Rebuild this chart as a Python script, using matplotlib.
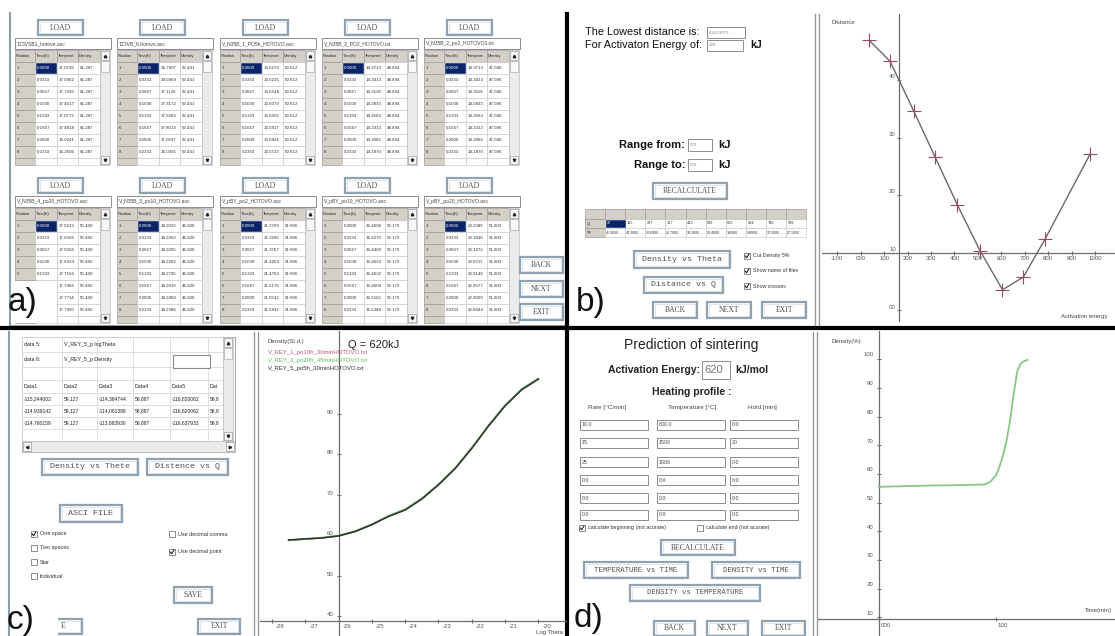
import matplotlib
matplotlib.use('Agg')
from matplotlib import pyplot as plt
from matplotlib.patches import Rectangle

W, H = 1115, 636

# a) loaded measurement files
file_names = ['TZ3VSB1_hotove.asc', 'TZ3VB_6.hotovo.asc', 'V_N35B_1_PO5h_HOTOVO.asc',
              'V_N35B_2_PO2_HOTOVO.txt', 'V_N35B_2_po2_HOTOVO3.txt',
              'V_N35B_4_po20_HOTOVO.asc', 'V_N35B_3_po10_HOTOVO.asc', 'V_pBY_po2_HOTOVO.asc',
              'V_pBY_po10_HOTOVO.asc', 'V_pBY_po20_HOTOVO.asc']
time_h = [0.0, 0.0333, 0.0667, 0.1, 0.1333, 0.1667, 0.2, 0.2333]
temp_c = [
    [17.0728, 17.0462, 17.7296, 17.4617, 17.0772, 17.4818, 16.0241, 16.2606],
    [16.7607, 18.0469, 17.1126, 17.3172, 17.5683, 17.8013, 17.0597, 16.0391],
    [13.6279, 13.6215, 13.6148, 13.6079, 13.6002, 13.5917, 13.5824, 13.5722],
    [14.3713, 14.3413, 14.3118, 14.2833, 14.2563, 14.2313, 14.2082, 14.1870],
    [14.3713, 14.3413, 14.3118, 14.2833, 14.2563, 14.2312, 14.2082, 14.1870],
    [17.5633, 17.6186, 17.6504, 17.6934, 17.7166, 17.7466, 17.7734, 17.7960],
    [18.2022, 18.2062, 18.2095, 18.2262, 18.2735, 18.2816, 18.2460, 18.2384],
    [21.2769, 21.3200, 21.3767, 21.4263, 21.4763, 21.5176, 21.5532, 21.5832],
    [16.4606, 16.4270, 16.4465, 16.4623, 16.4632, 16.4604, 16.5161, 16.5348],
    [23.2389, 23.1830, 23.1272, 23.0711, 23.0146, 22.9577, 22.9009, 22.8444],
]
density_pct = [61.287, 52.441, 50.612, 48.894, 47.046, 50.460, 46.820, 51.806, 52.179, 51.803]

# b) distance vs activation energy
q_kj = [37, 125, 227, 317, 413, 509, 605, 694, 788, 978]
dist = [46.9, 43.3, 34.6, 26.7, 18.3, 10.4, 3.6, 5.8, 12.5, 27.1]
b_xticks = [-100, 0, 100, 200, 300, 400, 500, 600, 700, 800, 900, 1000]
b_xlabels = ['-100', '000', '100', '200', '300', '400', '500', '600', '700', '800', '900', '1000']
b_yticks = [0, 10, 20, 30, 40]
b_ylabels = ['00', '10', '20', '30', '40']

# c) density vs log theta, three files
log_theta = [-27.5, -27.0, -26.5, -26.0, -25.5, -25.0, -24.5, -24.0,
             -23.5, -23.0, -22.5, -22.0, -21.5, -21.0, -20.5, -20.0]
dens_rey1 = [58.8, 59.0, 59.3, 59.8, 60.9, 62.6, 64.7, 66.3, 69.0, 72.5, 76.5, 81.5, 87.0, 92.0, 96.0, 98.6]
dens_rey3 = [58.7, 59.0, 59.4, 59.9, 61.0, 62.7, 64.8, 66.4, 69.1, 72.6, 76.6, 81.6, 87.1, 92.1, 96.1, 98.7]
dens_rey5 = [58.8, 59.1, 59.3, 59.8, 60.9, 62.6, 64.6, 66.2, 68.9, 72.4, 76.4, 81.4, 86.9, 91.9, 95.9, 98.5]
c_names = ['V_REY_1_po10h_30minHOTOVO.txt', 'V_REY_3_po20h_45minHOTOVO.txt', 'V_REY_5_po5h_30minHOTOVO.txt']
c_colors = ['#b9566f', '#5cc05c', '#333333']
c_rows = [['-115,244002', '59,127', '-114,364744', '58,887', '-116,820062', '58,8'],
          ['-114,939142', '59,127', '-114,061388', '58,887', '-116,820062', '58,8'],
          ['-114,760159', '59,127', '-113,883930', '58,887', '-116,637933', '58,8']]

# d) predicted density vs time
time_min = [0, 10, 20, 30, 40, 50, 60, 70, 80, 90, 95, 100, 103, 106, 109, 112, 115, 118, 121, 124, 127]
dens_pred = [55.5, 55.6, 55.7, 55.8, 55.9, 56.0, 56.0, 56.1, 56.2, 56.3, 57.2, 59.5,
             62.5, 66.5, 71.5, 78.5, 87.5, 95.5, 98.4, 99.3, 99.7]
rate = ['10.0', '15', '25', '0.0', '0.0', '0.0']
temperature = ['800.0', '1500', '1000', '0.0', '0.0', '0.0']
hold = ['0.0', '20', '0.0', '0.0', '0.0', '0.0']

SANS = 'Liberation Sans'
SERIF = 'Liberation Serif'
MONO = 'Liberation Mono'
GRID = '#c4c4c4'
HEAD = '#d4d0c8'
EDGE = '#8ea2b2'
TXT = '#505050'
AXC = '#6e6e6e'

fig = plt.figure(figsize=(W / 100, H / 100), dpi=100)
gui = fig.add_axes([0, 0, 1, 1])
gui.set_xlim(0, W)
gui.set_ylim(H, 0)
gui.set_axis_off()


def rect(x0, y0, x1, y1, fc='white', ec=GRID, lw=0.6, z=2):
    gui.add_patch(Rectangle((x0, y0), x1 - x0, y1 - y0, facecolor=fc, edgecolor=ec, linewidth=lw, zorder=z))


def text(x, y, s, fs=4, family=SANS, color='#222', ha='left', weight='normal', z=3):
    gui.text(x, y, s, fontsize=fs, family=family, color=color, ha=ha, va='center', weight=weight, zorder=z)


def button(x0, y0, x1, y1, label, fs=5.5, family=SERIF):
    rect(x0, y0, x1, y1, ec=EDGE, lw=1.6)
    rect(x0 + 1.6, y0 + 1.6, x1 - 1.6, y1 - 1.6, fc='none', ec='#d3dbe1', lw=0.5)
    if label:
        text((x0 + x1) / 2, (y0 + y1) / 2, label, fs, family, TXT, 'center')


def textbox(x0, y0, x1, y1, s='', fs=3.6, color='#444'):
    rect(x0, y0, x1, y1, ec='#8c8c8c', lw=0.7)
    text(x0 + 2, (y0 + y1) / 2, s, fs, SANS, color)


def checkbox(x, y, label, checked, fs=4):
    rect(x, y - 3, x + 6, y + 3, ec='#7a7a7a', lw=0.6)
    if checked:
        gui.plot([x + 1.2, x + 2.6, x + 4.9], [y - 0.1, y + 1.8, y - 1.9], color='#222', lw=0.8, zorder=4)
    text(x + 9, y, label, fs, SANS, '#333')


def scrollbar(x0, top, bottom):
    rect(x0, top, x0 + 10, bottom, fc='#ebebeb', ec='#b0b0b0', lw=0.4)
    rect(x0 + 1, top + 1, x0 + 9, top + 10, fc='#f6f6f6', ec='#8a8a8a', lw=0.4)
    gui.plot(x0 + 5, top + 5.5, marker='^', ms=1.8, color='#222', zorder=4)
    rect(x0 + 1, top + 11, x0 + 9, top + 22, fc='#f8f8f8', ec='#a0a0a0', lw=0.4)
    rect(x0 + 1, bottom - 9, x0 + 9, bottom - 1, fc='#f6f6f6', ec='#8a8a8a', lw=0.4)
    gui.plot(x0 + 5, bottom - 5, marker='v', ms=1.8, color='#222', zorder=4)


def file_table(x0, y0, k):
    button(x0 + 23, y0, x0 + 68, y0 + 15, 'LOAD', 5.5)
    textbox(x0, y0 + 18, x0 + 96, y0 + 29, file_names[k], 3.6)
    top = y0 + 30
    bottom = y0 + 145
    cols = [x0, x0 + 20, x0 + 42, x0 + 63, x0 + 85]
    heads = ['Position', 'Time(h)', 'Temperat', 'Density']
    for c in range(4):
        rect(cols[c], top, cols[c + 1], top + 12, fc=HEAD, ec='#9a9a9a', lw=0.5)
        text(cols[c] + 1, top + 6, heads[c], 2.9)
    for r in range(9):
        ry = top + 12 + 12 * r
        h = min(12, bottom - ry)
        if h <= 0:
            break
        rect(cols[0], ry, cols[1], ry + h, fc=HEAD, ec='#9a9a9a', lw=0.5)
        for c in range(1, 4):
            rect(cols[c], ry, cols[c + 1], ry + h, ec=GRID, lw=0.4)
        if h < 12:
            continue
        cells = [str(r + 1), '%.4f' % time_h[r], '%.4f' % temp_c[k][r], '%.3f' % density_pct[k]]
        sel = (r == 0 and k != 8)
        if sel:
            rect(cols[1] + 0.6, ry + 0.6, cols[2] - 0.6, ry + h - 0.6, fc='#0a246a', ec='#0a246a', lw=0.4, z=2.5)
        for c in range(4):
            if k == 5 and r >= 5 and c < 2:
                continue   # hidden behind the "a)" label
            text(cols[c] + 1.5, ry + 6, cells[c], 3.2, SANS, 'white' if (sel and c == 1) else '#333')
    scrollbar(x0 + 85, top, bottom)


# ---------------- panel a
gui.plot([10, 10], [13, 325], color='#8d9db0', lw=1.5)
gui.plot([10, 565], [325, 325], color='#a8a8a8', lw=0.8)
table_x = [15, 117, 220, 322, 424]
for k in range(10):
    file_table(table_x[k % 5], 20 if k < 5 else 178, k)
button(520, 257, 563, 273, 'BACK', 5.5)
button(520, 281, 563, 297, 'NEXT', 5.5)
button(520, 304, 563, 320, 'EXIT', 5.5)
rect(11, 281, 57, 323, fc='white', ec='none', z=5)
text(8, 302, 'a)', 24, SANS, '#111', z=6)

# ---------------- panel b (controls)
text(585, 32, 'The Lowest distance is:', 7.8, SANS, '#111')
textbox(707, 27, 745, 38, '4.0263075', 3.2, '#888')
text(585, 45, 'For Activaton Energy of:', 7.8, SANS, '#111')
textbox(707, 40, 743, 51, '620', 3.2, '#888')
text(750, 45, 'kJ', 7.5, SANS, '#111', weight='bold')
text(685, 145, 'Range from:', 8, SANS, '#111', 'right', 'bold')
textbox(688, 139, 712, 151, '570', 3.2, '#888')
text(718, 145, 'kJ', 8, SANS, '#111', weight='bold')
text(685, 165, 'Range to:', 8, SANS, '#111', 'right', 'bold')
textbox(688, 159, 712, 171, '670', 3.2, '#888')
text(718, 165, 'kJ', 8, SANS, '#111', weight='bold')
button(653, 183, 727, 199, 'RECALCULATE', 5.5)

cw = 20.1
for i in range(11):
    cx = 585 + cw * i
    rect(cx, 209, cx + cw, 219, fc=HEAD, ec='#9a9a9a', lw=0.5)
    if i == 0:
        rect(cx, 219, cx + cw, 228, fc=HEAD, ec='#9a9a9a', lw=0.5)
        rect(cx, 228, cx + cw, 237, fc=HEAD, ec='#9a9a9a', lw=0.5)
        text(cx + 1.5, 223.5, 'Q', 3)
        text(cx + 1.5, 232.5, 'sq', 3)
    else:
        rect(cx, 219, cx + cw, 228, ec=GRID, lw=0.4)
        rect(cx, 228, cx + cw, 237, ec=GRID, lw=0.4)
        if i == 1:
            rect(cx + 0.6, 219.6, cx + cw - 0.6, 227.4, fc='#0a246a', ec='#0a246a', lw=0.4, z=2.5)
        text(cx + 1.5, 223.5, str(q_kj[i - 1]), 2.8, SANS, 'white' if i == 1 else '#333')
        text(cx + 0.8, 232.5, '%.4f' % dist[i - 1], 2.6, SANS, '#333')

button(634, 251, 730, 268, 'Density vs Theta', 6, MONO)
button(644, 277, 723, 293, 'Distance vs Q', 6, MONO)
checkbox(744, 256, 'Cut Density 5%', True, 3.8)
checkbox(744, 271, 'Show name of files', True, 3.8)
checkbox(744, 286, 'Show crosses', True, 3.8)
button(653, 302, 697, 318, 'BACK', 5.5)
button(707, 302, 751, 318, 'NEXT', 5.5)
button(762, 302, 806, 318, 'EXIT', 5.5)
text(576, 302, 'b)', 24, SANS, '#111', z=6)
gui.plot([815, 815], [14, 326], color='#9a9a9a', lw=1)
gui.plot([819, 819], [14, 326], color='#9a9a9a', lw=1)

# ---------------- panel c (controls)
gui.plot([9, 9], [332, 636], color='#8d9db0', lw=1.5)
gui.plot([254, 254], [332, 636], color='#9a9a9a', lw=1)
gui.plot([258, 258], [332, 636], color='#9a9a9a', lw=1)
rect(22, 337, 235, 452, fc='white', ec='#9a9a9a', lw=0.6)
cxs = [22, 62, 97, 133, 170, 208, 223]
rys = [337, 352, 367, 380, 393, 405, 417, 429, 441]
for r in range(len(rys) - 1):
    for c in range(len(cxs) - 1):
        rect(cxs[c], rys[r], cxs[c + 1], rys[r + 1], ec='#d0d0d0', lw=0.4)
text(24, 344.5, 'data 5:', 3.8)
text(64, 344.5, 'V_REY_5_p logTheta', 3.8)
text(24, 359.5, 'data 6:', 3.8)
text(64, 359.5, 'V_REY_5_p Density', 3.8)
rect(173, 355, 210, 368, fc='white', ec='#8a8a8a', lw=0.8)
for c, h in enumerate(['Data1', 'Data2', 'Data3', 'Data4', 'Data5', 'Dat']):
    text(cxs[c] + 1.5, 386.5, h, 3.8)
for r, row in enumerate(c_rows):
    for c, s in enumerate(row):
        text(cxs[c] + 1.5, 399 + 12 * r, s, 3.6)
scrollbar(223, 337, 441)
rect(22, 441, 235, 452, fc='#ebebeb', ec='#b0b0b0', lw=0.4)
rect(23, 442, 31, 451, fc='#f6f6f6', ec='#8a8a8a', lw=0.4)
gui.plot(27, 446.5, marker='<', ms=1.8, color='#222', zorder=4)
rect(226, 442, 234, 451, fc='#f6f6f6', ec='#8a8a8a', lw=0.4)
gui.plot(230, 446.5, marker='>', ms=1.8, color='#222', zorder=4)

button(42, 459, 138, 475, 'Density vs Thete', 6, MONO)
button(147, 459, 228, 475, 'Distence vs Q', 6, MONO)
button(60, 505, 122, 522, 'ASCI FILE', 6, MONO)
checkbox(31, 534, 'One space', True)
checkbox(31, 548, 'Two spaces', False)
checkbox(31, 562, 'Star', False)
checkbox(31, 576, 'Individual', False)
checkbox(169, 534, 'Use decimal comma', False)
checkbox(169, 552, 'Use decimal point', True)
button(174, 587, 212, 603, 'SAVE', 5.5)
button(198, 619, 240, 634, 'EXIT', 5.5)
button(24, 619, 82, 634, '')
rect(10, 600, 58, 636, fc='white', ec='none', z=5)
text(61, 626.5, 'E', 5.5, SERIF, TXT)
text(7, 620, 'c)', 24, SANS, '#111', z=6)

# ---------------- panel d (controls)
gui.plot([813, 813], [332, 636], color='#9a9a9a', lw=1)
gui.plot([817, 817], [332, 636], color='#9a9a9a', lw=1)
text(691, 345, 'Prediction of sintering', 10, SANS, '#222', 'center')
text(700, 370, 'Activation Energy:', 7.5, SANS, '#222', 'right', 'bold')
textbox(702, 361, 730, 379, '620', 8, '#777')
text(735, 370, 'kJ/mol', 7.5, SANS, '#222', weight='bold')
text(692, 392, 'Heating profile :', 7.5, SANS, '#222', 'center', 'bold')
text(607, 408, 'Rate [\u00b0C/min]', 4.6, SANS, '#444', 'center')
text(692, 408, 'Temperature [\u00b0C]', 4.6, SANS, '#444', 'center')
text(762, 408, 'Hold [min]', 4.6, SANS, '#444', 'center')
for r, yc in enumerate([425, 443, 462, 480, 498, 515]):
    textbox(580, yc - 5, 648, yc + 5, rate[r], 3.8)
    textbox(657, yc - 5, 725, yc + 5, temperature[r], 3.8)
    textbox(730, yc - 5, 798, yc + 5, hold[r], 3.8)
checkbox(579, 528, 'calculate beginning (not acurate)', True, 3.8)
checkbox(697, 528, 'calculate end (not acurate)', False, 3.8)
button(661, 540, 735, 555, 'RECALCULATE', 5.5)
button(584, 562, 688, 578, 'TEMPERATURE vs TIME', 5.2, MONO)
button(712, 562, 800, 578, 'DENSITY vs TIME', 5.2, MONO)
button(630, 585, 760, 601, 'DENSITY vs TEMPERATURE', 5.2, MONO)
button(654, 621, 695, 636, 'BACK', 5.5)
button(707, 621, 748, 636, 'NEXT', 5.5)
button(762, 621, 805, 636, 'EXIT', 5.5)
text(574, 619, 'd)', 24, SANS, '#111', z=6)

# black separators between the four screenshots
gui.plot([567, 567], [14, 636], color='black', lw=3, zorder=10)
gui.plot([0, W], [328, 328], color='black', lw=3, zorder=10)


def px_axes(x0, y0, x1, y1):
    ax = fig.add_axes([x0 / W, 1 - y1 / H, (x1 - x0) / W, (y1 - y0) / H])
    ax.set_axis_off()
    return ax


def cross_axes(ax, x_at, y_at, xt, xl, yt, yl, xoff, yoff):
    ax.axhline(x_at, color=AXC, lw=0.9)
    ax.axvline(y_at, color=AXC, lw=0.9)
    ax.plot(xt, [x_at] * len(xt), ls='none', marker='|', ms=3.5, mew=0.8, color=AXC)
    ax.plot([y_at] * len(yt), yt, ls='none', marker='_', ms=3.5, mew=0.8, color=AXC)
    for t, s in zip(xt, xl):
        ax.annotate(s, (t, x_at), xytext=xoff, textcoords='offset points', ha='center', va='top',
                    fontsize=4.3, color='#555', family=SANS)
    for t, s in zip(yt, yl):
        ax.annotate(s, (y_at, t), xytext=yoff, textcoords='offset points', ha='right', va='center',
                    fontsize=4.3, color='#555', family=SANS)


# b) plot
ax_b = px_axes(822, 14, 1115, 322)
ax_b.set_xlim(-165, 1085)
ax_b.set_ylim(-2.0, 51.5)
cross_axes(ax_b, 10, 165, b_xticks, b_xlabels, b_yticks, b_ylabels, (0, -2.5), (-2.5, 2.5))
ax_b.plot(q_kj, dist, color='#6a6a6a', lw=1.0)
ax_b.plot(q_kj, dist, ls='none', marker='+', ms=10, mew=0.8, color='#9a4a5e')
ax_b.text(0.034, 0.974, 'Distance', transform=ax_b.transAxes, fontsize=4.3, color='#444', family=SANS, va='center')
ax_b.text(0.815, 0.019, 'Activation energy', transform=ax_b.transAxes, fontsize=4.3, color='#444',
          family=SANS, va='center')

# c) plot
ax_c = px_axes(260, 331, 567, 636)
ax_c.set_xlim(-28.36, -19.14)
ax_c.set_ylim(35.1, 110.4)
cross_axes(ax_c, 38.8, -26.0, [-28, -27, -26, -25, -24, -23, -22, -21, -20],
           ['-28', '-27', '-26', '-25', '-24', '-23', '-22', '-21', '-20'],
           [40, 50, 60, 70, 80, 90], ['40', '50', '60', '70', '80', '90'], (6, -2.5), (-3.5, 1))
for ys, col in zip([dens_rey1, dens_rey3, dens_rey5], c_colors):
    ax_c.plot(log_theta, ys, color=col, lw=1.1)
ax_c.text(0.026, 0.967, 'Density(St.d.)', transform=ax_c.transAxes, fontsize=4.3, color='#444', family=SANS, va='center')
ax_c.text(0.287, 0.954, 'Q = 620kJ', transform=ax_c.transAxes, fontsize=8, color='#222', family=SANS, va='center')
for i in range(3):
    ax_c.text(0.026, 0.928 - 0.026 * i, c_names[i], transform=ax_c.transAxes, fontsize=4.3,
              color=c_colors[i], family=SANS, va='center')
ax_c.text(0.9, 0.013, 'Log Theta', transform=ax_c.transAxes, fontsize=4.3, color='#444', family=SANS,
          va='center')

# d) plot
ax_d = px_axes(818, 331, 1115, 636)
ax_d.set_xlim(-52.1, 201.7)
ax_d.set_ylim(3.5, 109.8)
cross_axes(ax_d, 9.4, 0, [0, 100], ['000', '100'],
           [10, 20, 30, 40, 50, 60, 70, 80, 90, 100],
           ['10', '20', '30', '40', '50', '60', '70', '80', '90', '100'], (5, -2.5), (-4, 3))
ax_d.plot(time_min, dens_pred, color='#84c884', lw=1.3)
ax_d.text(0.047, 0.964, 'Density(%)', transform=ax_d.transAxes, fontsize=4.3, color='#444', family=SANS, va='center')
ax_d.text(0.899, 0.082, 'Time(min)', transform=ax_d.transAxes, fontsize=4.3, color='#444', family=SANS, va='center')

fig.savefig('out.png', dpi=100)
